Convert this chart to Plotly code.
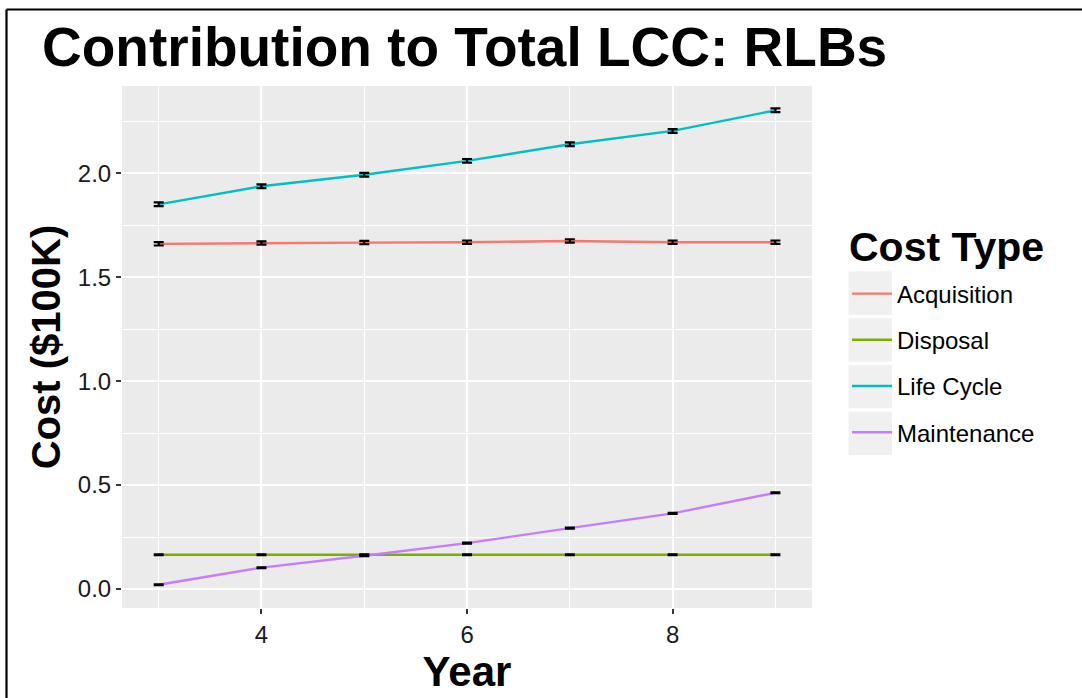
import plotly.graph_objects as go

# ---- data ----
years = [3, 4, 5, 6, 7, 8, 9]
cost_types = ["Acquisition", "Disposal", "Life Cycle", "Maintenance"]
acquisition = [1.660, 1.664, 1.666, 1.668, 1.674, 1.668, 1.668]
disposal = [0.165, 0.165, 0.165, 0.165, 0.165, 0.165, 0.165]
life_cycle = [1.850, 1.937, 1.992, 2.059, 2.139, 2.203, 2.302]
maintenance = [0.021, 0.103, 0.160, 0.221, 0.293, 0.364, 0.463]
acquisition_err = [0.008, 0.008, 0.008, 0.008, 0.008, 0.008, 0.008]
disposal_err = [0.002, 0.002, 0.002, 0.002, 0.002, 0.002, 0.002]
life_cycle_err = [0.009, 0.009, 0.009, 0.009, 0.009, 0.009, 0.009]
maintenance_err = [0.002, 0.002, 0.002, 0.002, 0.002, 0.002, 0.002]
x_ticks = [4, 6, 8]
y_ticks = [0.0, 0.5, 1.0, 1.5, 2.0]
y_tick_labels = ["0.0", "0.5", "1.0", "1.5", "2.0"]

series = [acquisition, disposal, life_cycle, maintenance]
errors = [acquisition_err, disposal_err, life_cycle_err, maintenance_err]
colors = ["#F8766D", "#7CAE00", "#00BFC4", "#C77CFF"]

# ---- page geometry ----
W, H = 1082, 698
ML, MR, MT, MB = 122, 270, 86, 90
PW, PH = W - ML - MR, H - MT - MB
FONT = "Liberation Sans"


def px_x(x):
    return (x - ML) / PW


def px_y(y):
    return (H - MB - y) / PH


fig = go.Figure()

# coloured lines
for name, vals, col in zip(cost_types, series, colors):
    fig.add_trace(go.Scatter(
        x=years, y=vals, mode="lines", name=name,
        line=dict(color=col, width=2.4),
        legendgroup=name, hoverinfo="skip",
    ))

# black error bars on top of the lines
for name, vals, err in zip(cost_types, series, errors):
    fig.add_trace(go.Scatter(
        x=years, y=vals, mode="markers", showlegend=False,
        marker=dict(size=1, color="rgba(0,0,0,0)"),
        error_y=dict(type="data", array=err, color="black",
                     thickness=2.2, width=5),
        hoverinfo="skip",
    ))

# legend key backgrounds
key_left, key_w = 848.5, 43.5
key_top, key_h, key_pitch = 271.6, 43.3, 46.7
shapes = []
for i in range(len(cost_types)):
    t = key_top + i * key_pitch
    shapes.append(dict(
        type="rect", xref="paper", yref="paper", layer="below",
        x0=px_x(key_left), x1=px_x(key_left + key_w),
        y0=px_y(t + key_h), y1=px_y(t),
        fillcolor="#F0F0F0", line=dict(width=0),
    ))

# frame around the figure (top and left edges)
shapes.append(dict(type="line", xref="paper", yref="paper",
                   x0=px_x(6.5), x1=px_x(W + 5), y0=px_y(9.5), y1=px_y(9.5),
                   line=dict(color="black", width=2)))
shapes.append(dict(type="line", xref="paper", yref="paper",
                   x0=px_x(6.5), x1=px_x(6.5), y0=px_y(9.5), y1=px_y(H + 5),
                   line=dict(color="black", width=2.2)))

axis_common = dict(
    showgrid=True, gridcolor="white", gridwidth=2,
    zeroline=False, showline=False,
    ticks="outside", ticklen=5, tickwidth=2, tickcolor="#333333",
    tickfont=dict(family=FONT, size=24, color="#1a1a1a"),
)

fig.update_layout(
    width=W, height=H,
    margin=dict(l=ML, r=MR, t=MT, b=MB, pad=0),
    paper_bgcolor="white", plot_bgcolor="#EBEBEB",
    font=dict(family=FONT, color="black"),
    title=dict(
        text="<b>Contribution to Total LCC: RLBs</b>",
        font=dict(family=FONT, size=55, color="black"),
        x=42 / W, xanchor="left", xref="container",
        y=1 - 47 / H, yanchor="middle", yref="container",
    ),
    xaxis=dict(
        **axis_common,
        range=[2.643, 9.356], tickvals=x_ticks,
        minor=dict(dtick=1, tick0=3, showgrid=True, gridcolor="white",
                   gridwidth=1, ticks=""),
        title=dict(text="<b>Year</b>", font=dict(family=FONT, size=42),
                   standoff=0),
    ),
    yaxis=dict(
        **axis_common,
        range=[-0.091, 2.419], tickvals=y_ticks, ticktext=y_tick_labels,
        minor=dict(dtick=0.25, tick0=0, showgrid=True, gridcolor="white",
                   gridwidth=1, ticks=""),
        title=dict(text="<b>Cost ($100K)</b>", font=dict(family=FONT, size=40),
                   standoff=4),
    ),
    legend=dict(
        font=dict(family=FONT, size=24, color="black"),
        x=px_x(847), xanchor="left", y=px_y(271.5), yanchor="top",
        bgcolor="rgba(0,0,0,0)", tracegroupgap=12, itemwidth=40,
    ),
    annotations=[dict(
        text="<b>Cost Type</b>", xref="paper", yref="paper",
        x=px_x(847), y=px_y(247), xanchor="left", yanchor="middle",
        showarrow=False, font=dict(family=FONT, size=41, color="black"),
    )],
    shapes=shapes,
)

fig.write_html("out.html")
